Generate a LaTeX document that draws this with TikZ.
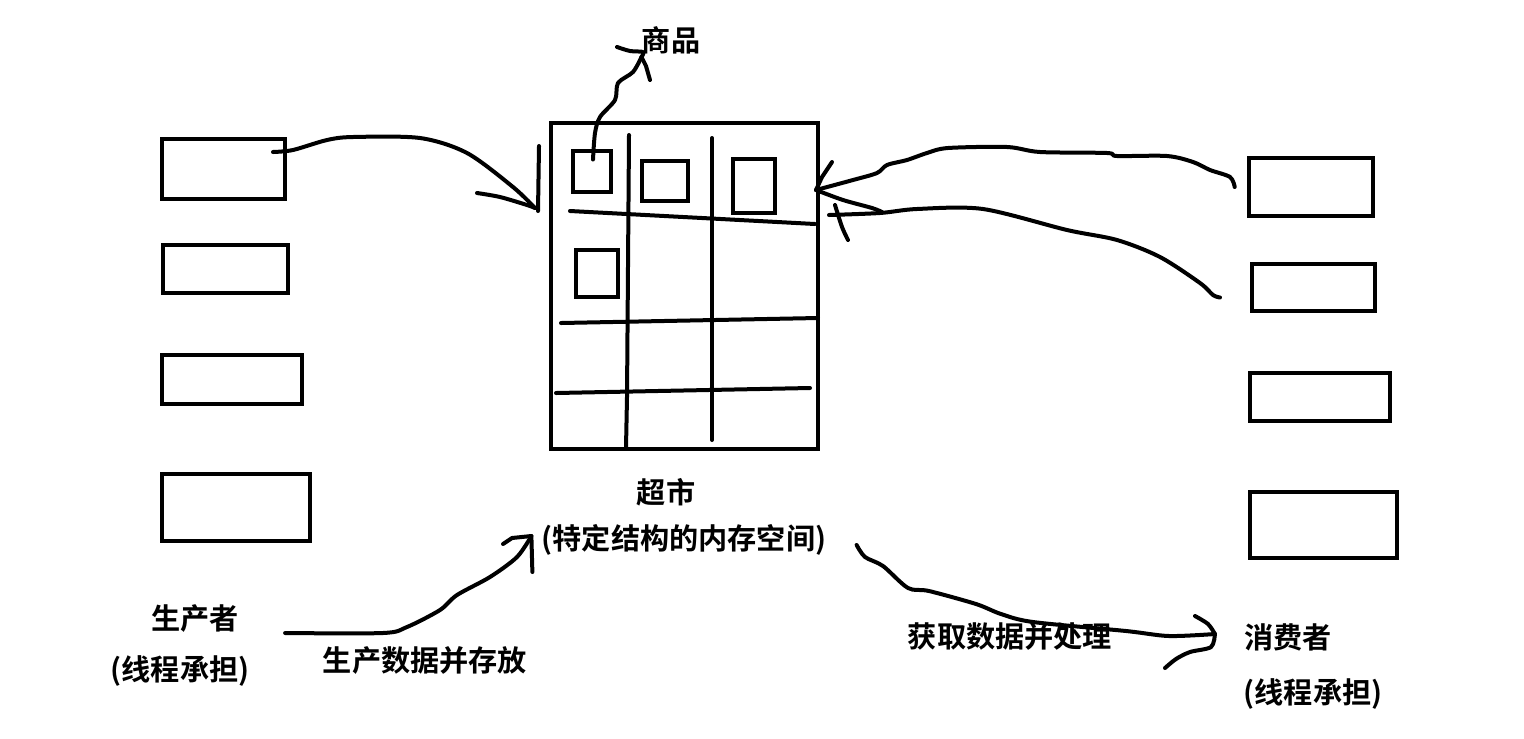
\documentclass[tikz,border=0pt]{standalone}
\usepackage{fontspec}
\setmainfont{Noto Sans CJK SC}[BoldFont={Noto Sans CJK SC Bold}]
\usepackage{tikz}
\usetikzlibrary{positioning,fit,calc}

\tikzset{
	pen/.style={line width=0.08cm,line cap=round,line join=round},
	box/.style={draw,line width=0.08cm,inner sep=0pt},
	lbl/.style={inner sep=0pt,font=\bfseries\fontsize{16.6}{19}\selectfont}
}

\begin{document}
\begin{tikzpicture}[x=0.02cm,y=-0.02cm]
		\useasboundingbox (0,0) rectangle (1524,738);
		
		% Producer buffers
		\node[box,fit={(162,139) (285,199)}] (p1) {};
		\node[box,fit={(163,245) (288,293)}] (p2) {};
		\node[box,fit={(162,355) (302,404)}] (p3) {};
		\node[box,fit={(162,474) (310,541)}] (p4) {};
		
		% Consumer buffers
		\node[box,fit={(1249,158) (1373,216)}] (c1) {};
		\node[box,fit={(1252,264) (1375,311)}] (c2) {};
		\node[box,fit={(1250,373) (1390,421)}] (c3) {};
		\node[box,fit={(1250,492) (1397,558)}] (c4) {};
		
		% Supermarket
		\node[box,fit={(551,123) (818,449)}] (market) {};
		\draw[pen] (629,135) -- (627,397) -- (626,448);
		\draw[pen] (712,138) -- (712,440);
		\draw[pen] (570,211) -- (815,224);
		\draw[pen] (561,323) -- (818,318);
		\draw[pen] (556,393) -- (810,388);
		
		% Goods
		\node[box,fit={(573,151) (611,192)}] (g1) {};
		\node[box,fit={(642,161) (688,201)}] (g2) {};
		\node[box,fit={(733,159) (775,213)}] (g3) {};
		\node[box,fit={(576,250) (618,297)}] (g4) {};
		
		% Labels
		\node[lbl] (goods) at (671,40) {商品};
		\node[lbl] (marketname) at (666,492) {超市};
		\node[lbl] (memory) at (684,540) {(特定结构的内存空间)};
		\node[lbl] (producer) at (195,619) {生产者};
		\node[lbl] (ptag) at (180,671) {(线程承担)};
		\node[lbl] (produce) at (425,660) {生产数据并存放};
		\node[lbl] (consume) at (1010,636) {获取数据并处理};
		\node[lbl] (consumer) at (1288,637) {消费者};
		\node[lbl] (ctag) at (1313,694) {(线程承担)};
		
		% Arrow ends
		\coordinate (tipA) at ([shift={(-14,87)}]market.north west);
		\coordinate (tipB) at ([shift={(0,17)}]goods.west);
		\coordinate (tipC) at ([shift={(-4,69)}]market.north east);
		\coordinate (tipD) at ([shift={(9,94)}]market.north east);
		\coordinate (tipE) at ([shift={(-10,-4)}]memory.west);
		\coordinate (tipF) at ([shift={(-29,-3)}]consumer.west);
		
		% Producer puts data
		\draw[pen] plot[smooth] coordinates{
			([shift={(-14,-17)}]p1.east)
			(293,150) (327,140) (353,137) (420,138)
			(467,153) (513,187) (tipA)
		};
		\draw[pen] plot[smooth] coordinates{(477,193) (500,197) (527,205) (tipA)};
		\draw[pen] ([shift={(3,3)}]tipA) -- ++(1,-65);
		
		% Goods label
		\draw[pen] plot[smooth] coordinates{
			([shift={(1,-12)}]g1.center)
			(595,133) (600,117) (615,100) (618,83) (633,72) (tipB)
		};
		\draw[pen] (tipB) -- (646,66) -- (650,80);
		\draw[pen] plot[smooth] coordinates{(tipB) (643,52) (630,51) (617,47)};
		
		% Consumers take data
		\draw[pen] plot[smooth] coordinates{
			([xshift=-7]c1.west)
			(1230,177) (1210,170) (1193,162) (1167,156) (1117,156)
			(1107,153) (1040,152) (1007,147) (948,148) (927,153)
			(907,160) (887,165) (877,173) (853,180) (tipC)
		};
		\draw[pen] (tipC) -- (822,177) -- (832,162);
		\draw[pen] plot[smooth] coordinates{(tipC) (843,200) (872,208) (882,212)};
		\draw[pen] plot[smooth] coordinates{
			([shift={(-30,10)}]c2.west)
			(1213,295) (1200,283) (1160,257) (1117,240) (1067,230)
			(983,209) (917,209) (880,213) (tipD)
		};
		\draw[pen] plot[smooth] coordinates{(835,205) (842,227) (848,240)};
		
		% Produce flow
		\draw[pen] plot[smooth] coordinates{
			([shift={(46,14)}]producer.east)
			(383,633) (407,627) (440,610) (457,595) (490,577) (517,557) (tipE)
		};
		\draw[pen] (503,544) -- (512,538) -- (tipE) -- ++(1,36);
		
		% Consume flow
		\draw[pen] plot[smooth] coordinates{
			([shift={(30,5)}]memory.east)
			(865,557) (883,566) (908,588) (929,591) (976,604)
			(1001,614) (1033,622) (1126,631) (1169,636) (tipF)
		};
		\draw[pen] plot[smooth] coordinates{(1195,616) (1208,624) (tipF)};
		\draw[pen] plot[smooth] coordinates{(tipF) (1211,647) (1190,652) (1176,659) (1165,668)};
		
	\end{tikzpicture}
\end{document}
